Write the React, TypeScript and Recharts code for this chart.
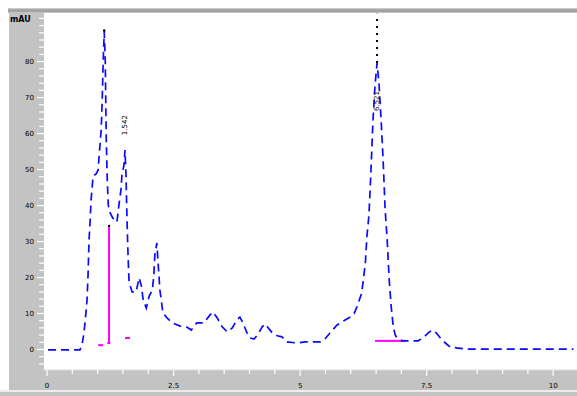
import React from "react";
import { LineChart, Line, XAxis, YAxis, ReferenceLine, ReferenceDot } from "recharts";

// retention time (min)
const times = [
  0.02, 0.65, 0.69, 0.73, 0.77, 0.79, 0.81, 0.83, 0.85, 0.87, 0.89, 0.91, 0.97, 1.01, 1.03, 1.07, 1.09, 1.11, 1.13,
  1.15, 1.17, 1.19, 1.21, 1.25, 1.3, 1.38, 1.42, 1.46, 1.48, 1.52, 1.54, 1.56, 1.58, 1.6, 1.62, 1.68, 1.76, 1.82,
  1.86, 1.9, 1.96, 2.02, 2.08, 2.11, 2.13, 2.17, 2.19, 2.23, 2.29, 2.37, 2.47, 2.63, 2.75, 2.85, 2.96, 3.1, 3.22,
  3.28, 3.36, 3.46, 3.56, 3.66, 3.75, 3.81, 3.87, 3.95, 4.01, 4.09, 4.17, 4.25, 4.31, 4.37, 4.45, 4.55, 4.64, 4.74,
  4.94, 5.1, 5.24, 5.4, 5.49, 5.59, 5.73, 5.89, 5.99, 6.07, 6.13, 6.21, 6.25, 6.29, 6.32, 6.36, 6.4, 6.44, 6.48,
  6.52, 6.56, 6.6, 6.64, 6.68, 6.72, 6.76, 6.8, 6.84, 6.88, 6.92, 7.02, 7.17, 7.33, 7.43, 7.53, 7.61, 7.69, 7.77,
  7.87, 7.96, 8.12, 8.3, 8.56, 9.55, 10.4,
];
// detector signal (mAU)
const signal = [
  -0.1, -0.1, 1.2, 4.6, 10.4, 13.8, 20.7, 30.4, 35.4, 41.5, 44.9, 48.2, 48.8, 49.9, 54.0, 61.0, 69.3, 80.4, 88.2,
  80.4, 58.2, 47.1, 40.1, 37.9, 36.5, 35.4, 40.1, 44.3, 48.5, 51.2, 55.4, 48.5, 36.0, 26.3, 18.8, 16.0, 16.0, 19.9,
  17.9, 13.8, 11.5, 14.9, 16.5, 20.7, 26.3, 29.6, 24.9, 16.5, 10.1, 8.8, 7.4, 6.5, 6.3, 5.4, 7.4, 7.4, 9.6,
  10.4, 8.8, 6.3, 4.9, 6.0, 8.2, 9.0, 7.4, 4.6, 3.2, 2.9, 4.3, 6.3, 7.1, 6.0, 4.6, 3.8, 3.5, 2.1,
  1.8, 2.1, 2.1, 2.1, 2.9, 4.6, 6.8, 8.2, 9.0, 10.1, 12.1, 15.4, 19.3, 24.3, 31.5, 37.4, 49.9, 63.8, 73.5,
  79.6, 73.5, 63.8, 52.6, 38.8, 30.4, 19.3, 11.8, 6.3, 4.0, 3.2, 2.4, 2.4, 2.4, 3.2, 4.6, 5.4, 4.6, 3.2,
  1.8, 0.7, 0.4, 0.1, 0.1, 0.1, 0.1,
];

const xTicks = [0, 0.5, 1, 1.5, 2, 2.5, 3, 3.5, 4, 4.5, 5, 5.5, 6, 6.5, 7, 7.5, 8, 8.5, 9, 9.5, 10];
const xLabels = [0, 2.5, 5, 7.5, 10];
const yTicks = [-4, -2, 0, 2, 4, 6, 8, 10, 12, 14, 16, 18, 20, 22, 24, 26, 28, 30, 32, 34, 36, 38, 40, 42, 44, 46, 48, 50, 52, 54, 56, 58, 60, 62, 64, 66, 68, 70, 72, 74, 76, 78, 80, 82, 84, 86, 88, 90, 92];
const yLabels = [0, 10, 20, 30, 40, 50, 60, 70, 80];

// integration baselines / drop lines: [t1, v1, t2, v2]
const baseT1 = [1.01, 1.19, 1.225, 1.54, 6.48];
const baseV1 = [1.2, 1.8, 1.5, 3.2, 2.4];
const baseT2 = [1.11, 1.25, 1.225, 1.64, 7.08];
const baseV2 = [1.2, 1.8, 34.0, 3.2, 2.4];

// peak retention-time labels
const peakT = [1.54, 6.52];
const peakV = [55.4, 79.6];
const peakText = ["1.542", "6.521"];

const data = times.map((t, i) => ({ t, v: signal[i] }));

const XTick = (props: any) => {
  const { x, y, payload } = props;
  const major = xLabels.includes(payload.value);
  return (
    <g>
      <line x1={x} x2={x} y1={y} y2={y + (major ? 6 : 4)} stroke="#ffffff" strokeWidth={1.2} />
      {major && (
        <text x={x} y={y + 18} textAnchor="middle" fontSize={7} fontFamily="DejaVu Sans" fill="#000">
          {payload.value}
        </text>
      )}
    </g>
  );
};

const YTick = (props: any) => {
  const { x, y, payload } = props;
  const major = yLabels.includes(payload.value);
  return (
    <g>
      <line x1={x - (major ? 7 : 5)} x2={x} y1={y} y2={y} stroke="#ffffff" strokeWidth={1.2} />
      {major && (
        <text x={x - 10} y={y + 2.5} textAnchor="end" fontSize={7} fontFamily="DejaVu Sans" fill="#000">
          {payload.value}
        </text>
      )}
    </g>
  );
};

const gray = "#c3c3c3";

export default function App() {
  return (
    <div style={{ position: "absolute", left: 0, top: 0, width: 577, height: 396, background: "#fff", overflow: "hidden" }}>
      <div style={{ position: "absolute", left: 8, top: 8, width: 569, height: 5, background: "linear-gradient(#d8d8d8 0%, #a4a4a4 35%, #9c9c9c 65%, #d0d0d0 100%)" }} />
      <div style={{ position: "absolute", left: 9, top: 13, width: 35, height: 377, background: gray }} />
      <div style={{ position: "absolute", left: 9, top: 370, width: 568, height: 20, background: gray }} />
      <div style={{ position: "absolute", left: 0, top: 390, width: 577, height: 2, background: "#ececec" }} />
      <div style={{ position: "absolute", left: 0, top: 392, width: 577, height: 4, background: gray }} />
      <div style={{ position: "absolute", left: 10, top: 15, fontSize: 8, fontFamily: "DejaVu Sans", fontWeight: "bold", color: "#000", lineHeight: "10px" }}>
        mAU
      </div>
      <div style={{ position: "absolute", left: 0, top: 0 }}>
        <LineChart width={577} height={396} data={data} margin={{ top: 13, right: 0, bottom: 0, left: 9 }}>
          <XAxis
            dataKey="t"
            type="number"
            domain={[-0.06, 10.47]}
            allowDataOverflow
            ticks={xTicks}
            interval={0}
            height={26}
            tickSize={0}
            tickMargin={0}
            tickLine={false}
            axisLine={{ stroke: "#dcdcdc", strokeWidth: 1 }}
            tick={<XTick />}
          />
          <YAxis
            type="number"
            domain={[-5.7, 93.5]}
            allowDataOverflow
            ticks={yTicks}
            interval={0}
            width={35}
            tickSize={0}
            tickMargin={0}
            tickLine={false}
            axisLine={false}
            tick={<YTick />}
          />
          {baseT1.map((t1, i) => (
            <ReferenceLine
              key={"b" + i}
              segment={[{ x: t1, y: baseV1[i] }, { x: baseT2[i], y: baseV2[i] }]}
              stroke="#ff00ff"
              strokeWidth={2}
            />
          ))}
          <ReferenceLine
            segment={[{ x: peakT[1], y: peakV[1] }, { x: peakT[1], y: 93.3 }]}
            stroke="#000"
            strokeWidth={2}
            strokeDasharray="2 5"
          />
          <Line
            type="linear"
            dataKey="v"
            stroke="#0a0aff"
            strokeWidth={1.7}
            strokeDasharray="8 5"
            dot={false}
            isAnimationActive={false}
          />
          <ReferenceDot x={1.13} y={88.6} r={1.3} fill="#000" stroke="none" />
          <ReferenceDot x={1.225} y={34.3} r={1.2} fill="#000" stroke="none" />
          {peakT.map((t, i) => (
            <ReferenceDot
              key={"p" + i}
              x={t}
              y={peakV[i]}
              r={1}
              shape={(p: any) => {
                const cy = i === 0 ? p.cy - 25 : p.cy + 38;
                return (
                  <text
                    x={p.cx}
                    y={cy}
                    transform={`rotate(-90 ${p.cx} ${cy})`}
                    textAnchor="middle"
                    dominantBaseline="central"
                    fontSize={7}
                    fontFamily="DejaVu Sans"
                    fill="#000"
                  >
                    {peakText[i]}
                  </text>
                );
              }}
            />
          ))}
        </LineChart>
      </div>
    </div>
  );
}
